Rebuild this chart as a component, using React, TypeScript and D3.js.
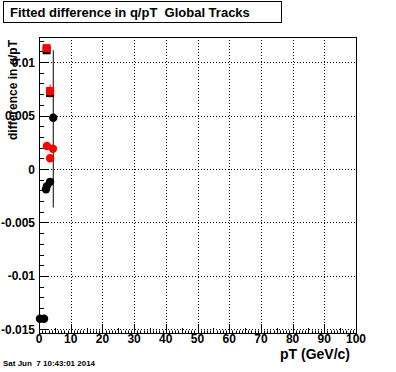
import React from "react";
import * as d3 from "d3";

// ---- data ----
const blackCircleX = [4.5, 3.5, 2.5, 2.2, 0.3, 1.6];
const blackCircleY = [0.0048, -0.0012, -0.0016, -0.0019, -0.014, -0.014];
const blackCircleErrLow = [0.0084, 0, 0, 0, 0, 0];
const blackCircleErrHigh = [0.0063, 0, 0, 0, 0, 0];

const blackSquareX = [2.4, 3.5];
const blackSquareY = [0.0111, 0.0071];
const blackSquareErr = [0.0003, 0.0004];

const redCircleX = [2.5, 4.4, 3.5];
const redCircleY = [0.00215, 0.0019, 0.001];

const redSquareX = [2.4, 3.5];
const redSquareY = [0.0113, 0.0073];
const redSquareErr = [0.0003, 0.0006];

const xMajorTicks = [0, 10, 20, 30, 40, 50, 60, 70, 80, 90, 100];
const yMajorTicks = [-0.015, -0.01, -0.005, 0, 0.005, 0.01];
const yTickLabels = ["-0.015", "-0.01", "-0.005", "0", "0.005", "0.01"];

const title = "Fitted difference in q/pT  Global Tracks";
const xTitle = "pT (GeV/c)";
const yTitle = "difference in q/pT";
const dateText = "Sat Jun  7 10:43:01 2014";

const W = 396;
const H = 372;
const FL = 39, FR = 356, FT = 37, FB = 333;
const FONT = "'Liberation Sans', Arial, Helvetica, sans-serif";

export default function App() {
  const x = d3.scaleLinear().domain([0, 100]).range([FL, FR]);
  const y = d3.scaleLinear().domain([-0.01533, 0.01234]).range([FB, FT]);

  const xMinor = d3.range(0, 101, 1);
  const yMinor = d3.range(-15, 13, 1).map((v) => v / 1000);

  return (
    <svg
      width={W}
      height={H}
      style={{ position: "absolute", left: 0, top: 0, background: "#fff" }}
      fontFamily={FONT}
    >
      <rect x={0} y={0} width={W} height={H} fill="#fff" />
      {/* title box */}
      <rect x={3.5} y={1.5} width={278} height={21} fill="#fff" stroke="#000" strokeWidth={1} />
      <text x={10} y={16.5} fontSize={13} fontWeight="bold" style={{ whiteSpace: "pre" }}>{title}</text>

      {/* grid */}
      {xMajorTicks.slice(1, -1).map((v) => (
        <line key={"gx" + v} x1={Math.round(x(v)) + 0.5} x2={Math.round(x(v)) + 0.5} y1={FT} y2={FB} stroke="#000" strokeWidth={1} strokeDasharray="1,2" />
      ))}
      {yMajorTicks.map((v) => (
        <line key={"gy" + v} x1={FL} x2={FR} y1={Math.round(y(v)) + 0.5} y2={Math.round(y(v)) + 0.5} stroke="#000" strokeWidth={1} strokeDasharray="1,2" />
      ))}

      {/* x ticks */}
      {xMinor.map((v) => {
        const len = v % 10 === 0 ? 9 : v % 5 === 0 ? 5 : 2.5;
        const px = Math.round(x(v)) + 0.5;
        return <line key={"xt" + v} x1={px} x2={px} y1={FB} y2={FB - len} stroke="#000" strokeWidth={1} />;
      })}
      {/* y ticks */}
      {yMinor.map((v, i) => {
        const major = (i % 5) === 0;
        const len = major ? 9 : 5;
        const py = Math.round(y(v)) + 0.5;
        return <line key={"yt" + i} x1={FL} x2={FL + len} y1={py} y2={py} stroke="#000" strokeWidth={1} />;
      })}

      {/* frame */}
      <rect x={FL + 0.5} y={FT + 0.5} width={FR - FL} height={FB - FT} fill="none" stroke="#000" strokeWidth={1} />

      {/* tick labels */}
      {xMajorTicks.map((v) => (
        <text key={"xl" + v} x={x(v)} y={343} fontSize={12} fontWeight="bold" textAnchor="middle">{v}</text>
      ))}
      {yMajorTicks.map((v, i) => (
        <text key={"yl" + i} x={35} y={y(v) + 4.5} fontSize={12} fontWeight="bold" textAnchor="end">{yTickLabels[i]}</text>
      ))}

      {/* axis titles */}
      <text x={350} y={359} fontSize={14} fontWeight="bold" textAnchor="end">{xTitle}</text>
      <text transform={`translate(17,${FT + 3}) rotate(-90)`} fontSize={12} fontWeight="bold" textAnchor="end">{yTitle}</text>

      {/* date */}
      <text x={3} y={366} fontSize={8} fontWeight="bold" style={{ whiteSpace: "pre" }}>{dateText}</text>

      {/* black error bars */}
      {blackCircleX.map((v, i) =>
        blackCircleErrLow[i] + blackCircleErrHigh[i] > 0 ? (
          <line key={"be" + i} x1={x(v)} x2={x(v)} y1={y(blackCircleY[i] - blackCircleErrLow[i])} y2={y(blackCircleY[i] + blackCircleErrHigh[i])} stroke="#000" strokeWidth={1} />
        ) : null
      )}
      {blackSquareX.map((v, i) => (
        <line key={"bse" + i} x1={x(v)} x2={x(v)} y1={y(blackSquareY[i] - blackSquareErr[i])} y2={y(blackSquareY[i] + blackSquareErr[i])} stroke="#000" strokeWidth={1} />
      ))}
      {/* black markers */}
      {blackSquareX.map((v, i) => (
        <rect key={"bs" + i} x={x(v) - 4} y={y(blackSquareY[i]) - 4} width={8} height={8} fill="#000" />
      ))}
      {blackCircleX.map((v, i) => (
        <circle key={"bc" + i} cx={x(v)} cy={y(blackCircleY[i])} r={4.2} fill="#000" />
      ))}

      {/* red markers */}
      {redSquareX.map((v, i) => (
        <line key={"rse" + i} x1={x(v)} x2={x(v)} y1={y(redSquareY[i] - redSquareErr[i])} y2={y(redSquareY[i] + redSquareErr[i])} stroke="#f00" strokeWidth={1} />
      ))}
      {redSquareX.map((v, i) => (
        <rect key={"rs" + i} x={x(v) - 4} y={y(redSquareY[i]) - 4} width={8} height={8} fill="#f00" />
      ))}
      {redCircleX.map((v, i) => (
        <circle key={"rc" + i} cx={x(v)} cy={y(redCircleY[i])} r={4.2} fill="#f00" />
      ))}
    </svg>
  );
}
